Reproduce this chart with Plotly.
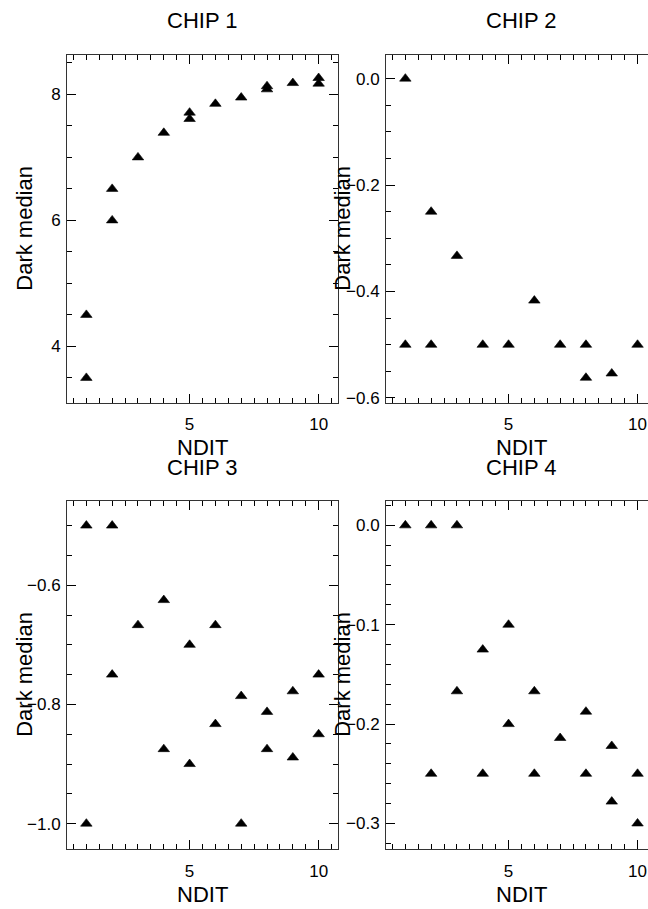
import plotly.graph_objects as go

# ---------------- data ----------------
chip1_ndit = [1, 1, 2, 2, 3, 4, 5, 5, 6, 7, 8, 8, 9, 10, 10]
chip1_dark = [4.5, 3.5, 6.5, 6.0, 7.0, 7.39, 7.71, 7.61, 7.85, 7.95, 8.13, 8.08, 8.18, 8.26, 8.17]

chip2_ndit = [1, 1, 2, 2, 3, 4, 5, 6, 7, 8, 8, 9, 10]
chip2_dark = [0.0, -0.5, -0.25, -0.5, -0.333, -0.5, -0.5, -0.417, -0.5, -0.5, -0.562, -0.554, -0.5]

chip3_ndit = [1, 1, 2, 2, 3, 4, 4, 5, 5, 6, 6, 7, 7, 8, 8, 9, 9, 10, 10]
chip3_dark = [-0.5, -1.0, -0.5, -0.75, -0.667, -0.625, -0.875, -0.7, -0.9, -0.667, -0.833,
              -0.786, -1.0, -0.8125, -0.875, -0.778, -0.889, -0.75, -0.85]

chip4_ndit = [1, 2, 2, 3, 3, 4, 4, 5, 5, 6, 6, 7, 8, 8, 9, 9, 10, 10]
chip4_dark = [0.0, 0.0, -0.25, 0.0, -0.167, -0.125, -0.25, -0.1, -0.2, -0.167, -0.25,
              -0.214, -0.1875, -0.25, -0.222, -0.278, -0.25, -0.3]

titles = ["CHIP 1", "CHIP 2", "CHIP 3", "CHIP 4"]
x_label = "NDIT"
y_label = "Dark median"

# ---------------- layout geometry ----------------
W, H = 648, 909
FONT = "Liberation Sans, Arial, Helvetica, sans-serif"

def px_x(p):
    return p / W

def px_y(p):
    return 1 - p / H

col_dom = [[px_x(67), px_x(338)], [px_x(386), 1.0]]
row_dom = [[px_y(405), px_y(55)], [px_y(854), px_y(503.3)]]

x_ranges = [[0.25, 10.75], [0.25, 0.25 + 262 / 25.8], [0.25, 10.75], [0.25, 0.25 + 262 / 25.8]]
y_ranges = [[3.105, 8.63], [-0.609, 0.045], [-1.043, -0.458], [-0.326, 0.025]]
y_dticks = [2, 0.2, 0.2, 0.1]
y_minor = [0.5, 0.05, 0.05, 0.02]

series = [(chip1_ndit, chip1_dark), (chip2_ndit, chip2_dark),
          (chip3_ndit, chip3_dark), (chip4_ndit, chip4_dark)]

fig = go.Figure()
layout = dict(
    width=W, height=H,
    margin=dict(l=0, r=0, t=0, b=0),
    paper_bgcolor="white", plot_bgcolor="white",
    showlegend=False,
    font=dict(family=FONT, size=17, color="black"),
)

LINE = "#333333"
TICKFONT = dict(family=FONT, size=17, color="black")
annotations = []
for i, (xs, ys) in enumerate(series):
    n = i + 1
    sfx = "" if n == 1 else str(n)
    row, col = divmod(i, 2)
    fig.add_trace(go.Scatter(
        x=xs, y=ys, mode="markers",
        marker=dict(symbol="triangle-up", size=10, color="black", line=dict(width=0.6, color="black")),
        xaxis="x" + sfx, yaxis="y" + sfx, hoverinfo="x+y",
    ))
    layout["xaxis" + sfx] = dict(
        domain=col_dom[col], anchor="y" + sfx, range=x_ranges[i],
        tick0=0, dtick=5, ticks="inside", ticklen=9, tickwidth=1, tickcolor="black",
        minor=dict(dtick=0.5, tick0=0, ticks="inside", ticklen=5, tickwidth=1, tickcolor="black", showgrid=False),
        showline=True, linecolor=LINE, linewidth=1, mirror="allticks",
        showgrid=False, zeroline=False, ticklabelstandoff=6,
        tickfont=TICKFONT,
    )
    layout["yaxis" + sfx] = dict(
        domain=row_dom[row], anchor="x" + sfx, range=y_ranges[i],
        tick0=0, dtick=y_dticks[i], ticks="inside", ticklen=9, tickwidth=1, tickcolor="black",
        minor=dict(dtick=y_minor[i], ticks="inside", ticklen=5, tickwidth=1, tickcolor="black", showgrid=False),
        showline=True, linecolor=LINE, linewidth=1,
        mirror="allticks" if col == 0 else False,
        showgrid=False, zeroline=False, ticklabelstandoff=2,
        tickformat=".1f" if i > 0 else "d",
        tickfont=TICKFONT,
    )
    cx = [202.5, 521.5][col]
    title_y = [20.7, 470][row]
    xlab_y = [450, 899][row]
    ylab_x = [25, 343][col]
    ylab_y = [230, 678.5][row]
    annotations.append(dict(text=titles[i], x=px_x(cx), y=px_y(title_y), xref="paper", yref="paper",
                            xanchor="center", yanchor="middle", showarrow=False,
                            font=dict(family=FONT, size=22, color="black")))
    annotations.append(dict(text=x_label, x=px_x(cx), y=px_y(xlab_y), xref="paper", yref="paper",
                            xanchor="center", yanchor="middle", showarrow=False,
                            font=dict(family=FONT, size=22, color="black")))
    annotations.append(dict(text=y_label, x=px_x(ylab_x), y=px_y(ylab_y), xref="paper", yref="paper",
                            xanchor="center", yanchor="middle", showarrow=False, textangle=-90,
                            font=dict(family=FONT, size=22, color="black")))

layout["annotations"] = annotations
fig.update_layout(**layout)
fig.write_html(
    "out.html",
    config={"displayModeBar": False},
    post_script="document.body.style.margin='0';document.body.style.overflow='hidden';",
)
